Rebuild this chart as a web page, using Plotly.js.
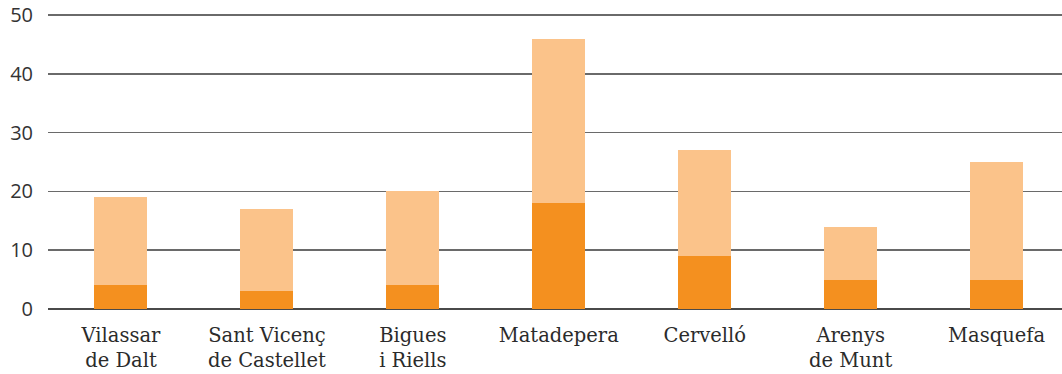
<!DOCTYPE html>
<html>
<head>
<meta charset="utf-8">
<script src="https://cdn.plot.ly/plotly-3.0.1.min.js"></script>
<style>
  html, body { margin: 0; padding: 0; background: #fff; }
  #chart { width: 1062px; height: 374px; }
</style>
</head>
<body>
<div id="chart"></div>
<script>
// Municipalities (x axis) and the two stacked components per bar
const municipis = [
  'Vilassar<br>de Dalt',
  'Sant Vicenç<br>de Castellet',
  'Bigues<br>i Riells',
  'Matadepera',
  'Cervelló',
  'Arenys<br>de Munt',
  'Masquefa'
];
const baseValues = [4, 3, 4, 18, 9, 5, 5];
const topValues = [15, 14, 16, 28, 18, 9, 20];
const yTicks = [0, 10, 20, 30, 40, 50];

const traces = [
  {
    type: 'bar',
    x: municipis,
    y: baseValues,
    marker: { color: '#F4901F', line: { width: 0 } },
    hoverinfo: 'x+y'
  },
  {
    type: 'bar',
    x: municipis,
    y: topValues,
    marker: { color: '#FBC38A', line: { width: 0 } },
    hoverinfo: 'x+y'
  }
];

const layout = {
  width: 1062,
  height: 374,
  margin: { l: 48, r: 0, t: 14, b: 65 },
  barmode: 'stack',
  bargap: 0.637,
  showlegend: false,
  paper_bgcolor: '#ffffff',
  plot_bgcolor: '#ffffff',
  xaxis: {
    range: [-0.5, 6.448],
    showgrid: false,
    showline: false,
    ticks: '',
    ticklabelstandoff: 12,
    tickfont: { family: 'DejaVu Serif', size: 19.5, color: '#2b2b2b' }
  },
  yaxis: {
    range: [0, 50.2],
    tickvals: yTicks,
    ticktext: yTicks.map(String),
    showgrid: true,
    gridcolor: '#6a6a6a',
    gridwidth: 1.5,
    zeroline: true,
    zerolinecolor: '#4a4a4a',
    zerolinewidth: 2,
    showline: false,
    ticks: '',
    ticklabelstandoff: 14,
    tickfont: { family: 'Open Sans', size: 20, color: '#333333' }
  }
};

Plotly.newPlot('chart', traces, layout, { displayModeBar: false, staticPlot: true });
</script>
</body>
</html>
